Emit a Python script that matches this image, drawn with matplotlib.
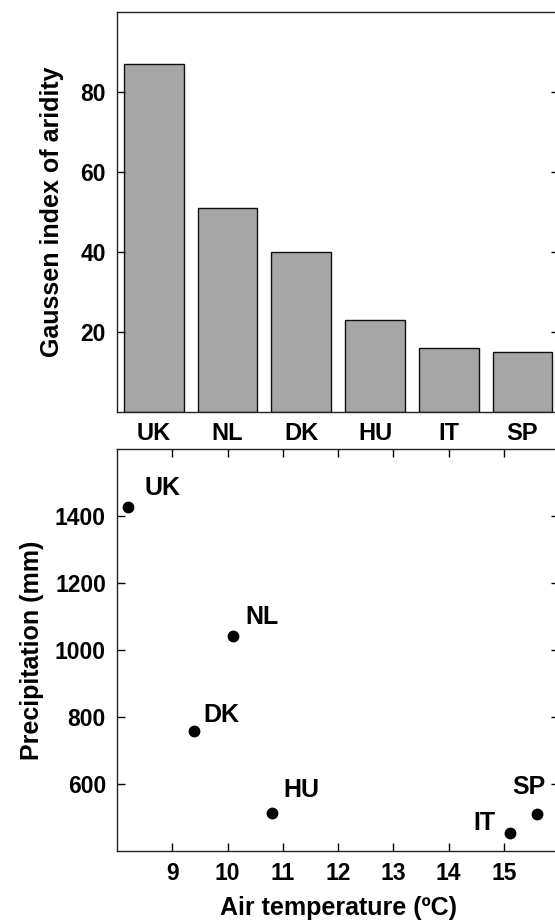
import matplotlib
matplotlib.use('Agg')
import matplotlib.pyplot as plt

plt.rcParams['font.family'] = ['Liberation Sans', 'DejaVu Sans']
plt.rcParams['font.weight'] = 'bold'

countries = ['UK', 'NL', 'DK', 'HU', 'IT', 'SP']
aridity = [87, 51, 40, 23, 16, 15]

# air temperature (ºC) and yearly precipitation (mm) per country
temperature = [8.2, 10.1, 9.4, 10.8, 15.1, 15.6]
precipitation = [1426, 1041, 757, 514, 454, 510]
label_offsets = {'UK': (12, 14, 'left'), 'NL': (9, 14, 'left'), 'DK': (6.5, 11.5, 'left'),
                 'HU': (8, 16, 'left'), 'IT': (-10, 7, 'right'), 'SP': (-6, 19.5, 'center')}

fig = plt.figure(figsize=(5.55, 9.22), dpi=100)
ax1 = fig.add_axes([0.2108, 0.5531, 0.797, 0.4338])
ax2 = fig.add_axes([0.2108, 0.0773, 0.797, 0.4354])

for ax in (ax1, ax2):
    for s in ax.spines.values():
        s.set_linewidth(1.0)
        s.set_color('#222222')

# bar chart of the aridity index
ax1.bar(range(len(countries)), aridity, width=0.81, color='#a6a6a6',
        edgecolor='#111111', linewidth=1.0)
ax1.set_xlim(-0.5, 5.5)
ax1.set_ylim(0, 100)
ax1.set_yticks([20, 40, 60, 80])
ax1.set_xticks(range(len(countries)))
ax1.set_xticklabels(countries)
ax1.tick_params(axis='x', length=0, pad=7, labelsize=17)
ax1.tick_params(axis='y', direction='in', length=6, width=1, right=True,
                labelsize=16.5, pad=8)
ax1.set_ylabel('Gaussen index of aridity', fontsize=18, fontweight='bold', labelpad=12)

# scatter of precipitation against air temperature
ax2.plot(temperature, precipitation, 'o', color='black', markersize=7.5)
for name, x, y in zip(countries, temperature, precipitation):
    dx, dy, ha = label_offsets[name]
    ax2.annotate(name, (x, y), xytext=(dx, dy), textcoords='offset points',
                 ha=ha, va='center', fontsize=18, fontweight='bold')
ax2.set_xlim(8, 16)
ax2.set_ylim(400, 1600)
ax2.set_xticks(range(9, 16))
ax2.set_yticks([600, 800, 1000, 1200, 1400])
ax2.tick_params(direction='in', length=6, width=1, top=True, right=True,
                labelsize=16.5, pad=8)
ax2.set_xlabel('Air temperature (ºC)', fontsize=18, fontweight='bold', labelpad=8)
ax2.set_ylabel('Precipitation (mm)', fontsize=18, fontweight='bold', labelpad=8)

fig.savefig('out.png', dpi=100)
